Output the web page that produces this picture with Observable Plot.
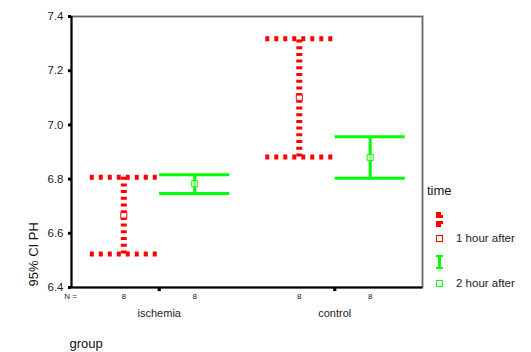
<!DOCTYPE html>
<html>
<head>
<meta charset="utf-8">
<script src="https://cdn.jsdelivr.net/npm/d3@7"></script>
<script src="https://cdn.jsdelivr.net/npm/@observablehq/plot@0.6"></script>
<style>
  body { margin: 0; background: #fff; font-family: "Liberation Sans", Arial, sans-serif; }
  #wrap { position: relative; width: 531px; height: 352px; }
  #legend { position: absolute; left: 427px; top: 183px; font-size: 11.5px; color: #222; }
</style>
</head>
<body>
<div id="wrap">
  <div id="chart"></div>
  <div id="legend"></div>
</div>
<script>
const groups = ["ischemia", "control"];
const times = ["1 hour after", "2 hour after"];
const rowGroup = ["ischemia", "ischemia", "control", "control"];
const rowTime = ["1 hour after", "2 hour after", "1 hour after", "2 hour after"];
const meanPH = [6.666, 6.783, 7.100, 6.880];
const lowerCI = [6.524, 6.747, 6.882, 6.803];
const upperCI = [6.807, 6.816, 7.318, 6.956];
const nCount = [8, 8, 8, 8];
const yTicks = [6.4, 6.6, 6.8, 7.0, 7.2, 7.4];
const colors = {"1 hour after": "#ff0000", "2 hour after": "#00ff00"};

// layout helpers (not data): offset of each time within a group band
const timeOffset = {"1 hour after": -0.202, "2 hour after": 0.202};
const capHalf = {"1 hour after": 0.191, "2 hour after": 0.2};

const rows = rowGroup.map((g, i) => {
  const pos = groups.indexOf(g) + 0.5 + timeOffset[rowTime[i]];
  return {
    group: g, time: rowTime[i], mean: meanPH[i], lo: lowerCI[i], hi: upperCI[i], n: nCount[i],
    pos, c1: pos - capHalf[rowTime[i]], c2: pos + capHalf[rowTime[i]]
  };
});
const red = rows.filter(d => d.time === times[0]);
const green = rows.filter(d => d.time === times[1]);
const groupRows = groups.map((g, i) => ({group: g, pos: i + 0.5}));

const chart = Plot.plot({
  width: 531,
  height: 352,
  marginLeft: 71,
  marginRight: 109,
  marginTop: 16,
  marginBottom: 65,
  style: {fontFamily: "Liberation Sans, Arial, sans-serif", fontSize: "11.5px", color: "#222", background: "#fff"},
  x: {type: "linear", domain: [0, 2], axis: null},
  y: {type: "linear", domain: [6.4, 7.4], axis: null},
  marks: [
    Plot.frame({stroke: "#666", strokeWidth: 1.8}),
    Plot.ruleY([6.4], {stroke: "#000", strokeWidth: 2}),
    Plot.ruleX([0], {stroke: "#000", strokeWidth: 2}),
    Plot.axisY({ticks: yTicks, tickFormat: d3.format(".1f"), tickSize: 3, tickPadding: 5, strokeWidth: 3, stroke: "#000", label: null, fontSize: 11.5}),
    Plot.dot(groupRows, {x: "pos", frameAnchor: "bottom", dy: 2, symbol: "square", r: 1.8, fill: "#000", stroke: "none"}),
    // red (1 hour after) dotted error bars
    Plot.ruleX(red, {x: "pos", y1: "lo", y2: "hi", stroke: colors[times[0]], strokeWidth: 6, strokeDasharray: "3,3.7"}),
    Plot.ruleY(red, {y: "hi", x1: "c1", x2: "c2", stroke: colors[times[0]], strokeWidth: 5, strokeDasharray: "4,5"}),
    Plot.ruleY(red, {y: "lo", x1: "c1", x2: "c2", stroke: colors[times[0]], strokeWidth: 5, strokeDasharray: "4,5"}),
    // green (2 hour after) solid error bars
    Plot.ruleX(green, {x: "pos", y1: "lo", y2: "hi", stroke: colors[times[1]], strokeWidth: 3}),
    Plot.ruleY(green, {y: "hi", x1: "c1", x2: "c2", stroke: colors[times[1]], strokeWidth: 3}),
    Plot.ruleY(green, {y: "lo", x1: "c1", x2: "c2", stroke: colors[times[1]], strokeWidth: 3}),
    // means
    Plot.dot(rows, {x: "pos", y: "mean", symbol: "square", r: 3.4, fill: "#fff", fillOpacity: 0.6, stroke: d => colors[d.time], strokeWidth: 1}),
    // N labels
    Plot.text(rows, {x: "pos", text: d => String(d.n), frameAnchor: "bottom", dy: 11, fontSize: 8, fill: "#222"}),
    Plot.text(["N ="], {x: 0, frameAnchor: "bottom", dy: 11, dx: -1, fontSize: 8, fill: "#222"}),
    // group labels
    Plot.text(groupRows, {x: "pos", text: "group", frameAnchor: "bottom", dy: 29, fontSize: 11, fill: "#222"}),
    Plot.text(["group"], {x: 0, frameAnchor: "bottom", textAnchor: "start", dy: 60, dx: -2, fontSize: 13, fill: "#111"}),
    // y label
    Plot.text(["95% CI PH"], {frameAnchor: "bottom-left", rotate: -90, textAnchor: "start", dx: -34, dy: -1, fontSize: 13, fill: "#111"})
  ]
});
document.getElementById("chart").appendChild(chart);

// legend
const leg = document.getElementById("legend");
leg.innerHTML = `
  <div style="font-size:13px;color:#111;margin-bottom:12px;">time</div>
  <div style="position:relative;height:60px;">
    <svg width="20" height="110" style="position:absolute;left:8px;top:0;">
      <rect x="1" y="2" width="5" height="4" fill="${colors[times[0]]}"/>
      <rect x="1" y="5" width="7" height="3" fill="${colors[times[0]]}"/>
      <rect x="1" y="11" width="7" height="3" fill="${colors[times[0]]}"/>
      <rect x="1" y="13" width="5" height="4" fill="${colors[times[0]]}"/>
      <rect x="1.5" y="25.5" width="6" height="6" fill="#fff" stroke="${colors[times[0]]}" stroke-width="1"/>
      <line x1="1" x2="8" y1="46" y2="46" stroke="${colors[times[1]]}" stroke-width="2"/>
      <line x1="4.5" x2="4.5" y1="46" y2="58" stroke="${colors[times[1]]}" stroke-width="3"/>
      <line x1="1" x2="8" y1="58" y2="58" stroke="${colors[times[1]]}" stroke-width="2"/>
      <rect x="1.5" y="70.5" width="6" height="6" fill="#fff" stroke="${colors[times[1]]}" stroke-width="1"/>
    </svg>
    <div style="position:absolute;left:29px;top:22px;white-space:nowrap;">${times[0]}</div>
    <div style="position:absolute;left:29px;top:67px;white-space:nowrap;">${times[1]}</div>
  </div>`;
</script>
</body>
</html>
